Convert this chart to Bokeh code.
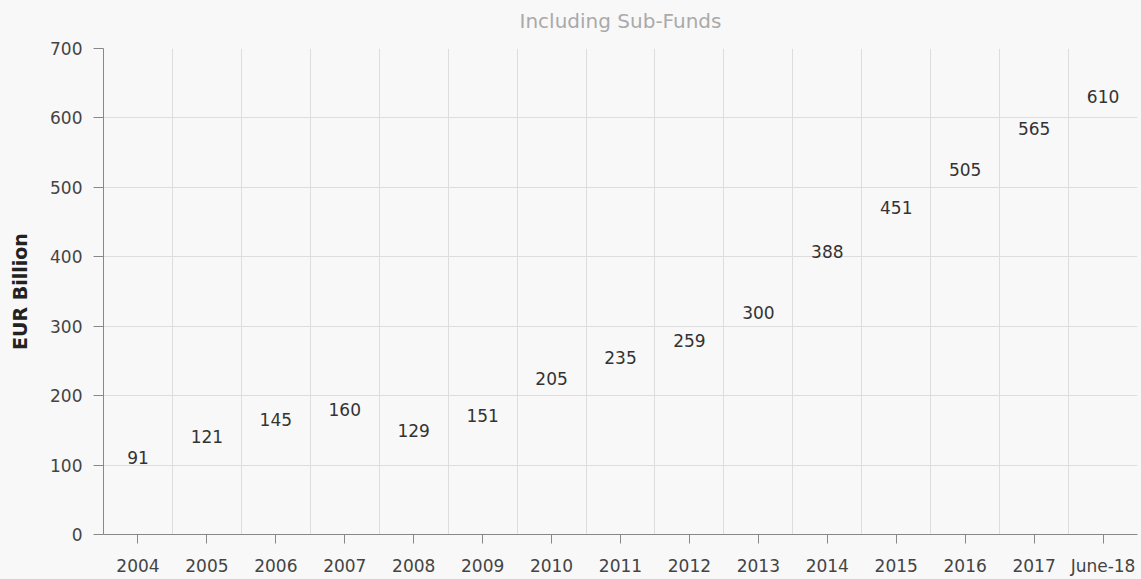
import numpy as np
from bokeh.plotting import figure
from bokeh.models import ColumnDataSource, FixedTicker, Range1d, Title
from bokeh.core.properties import value
from bokeh.embed import file_html
from bokeh.resources import INLINE
from jinja2 import Template

categories = ["2004", "2005", "2006", "2007", "2008", "2009", "2010", "2011",
              "2012", "2013", "2014", "2015", "2016", "2017", "June-18"]
values = [91, 121, 145, 160, 129, 151, 205, 235, 259, 300, 388, 451, 505, 565, 610]
y_ticks = [0, 100, 200, 300, 400, 500, 600, 700]
title_text = "Including Sub-Funds"
y_label = "EUR Billion"

FONT = "DejaVu Sans"
BG = "#f8f8f8"

n = len(categories)
x = [i + 0.5 for i in range(n)]
src = ColumnDataSource(dict(x=x, y=values, label=[str(v) for v in values]))

p = figure(width=1141, height=579, output_backend="svg", toolbar_location=None,
           x_range=Range1d(0, n), y_range=Range1d(0, y_ticks[-1]),
           background_fill_color=BG, border_fill_color=BG,
           min_border_left=103, min_border_right=4, min_border_top=48,
           min_border_bottom=45)
p.outline_line_color = None
p.title.text = ""

# small spacer between plot area and title, then the title itself
spacer = Title(text=" ", text_font=FONT, text_font_size="7px", standoff=0)
p.add_layout(spacer, "above")
title = Title(text=title_text, align="center", text_font=FONT,
              text_font_size="20px", text_font_style="normal",
              text_color="#aaaaaa", standoff=12)
p.add_layout(title, "above")

# x axis
p.xaxis.ticker = FixedTicker(ticks=x)
p.xaxis.major_label_overrides = {xi: c for xi, c in zip(x, categories)}
p.xaxis.major_tick_out = 9
p.xaxis.major_tick_in = 0
p.xaxis.minor_tick_line_color = None
p.xaxis.major_label_standoff = 12

# y axis
p.yaxis.ticker = FixedTicker(ticks=y_ticks)
p.yaxis.major_tick_out = 10
p.yaxis.major_tick_in = 0
p.yaxis.minor_tick_line_color = None
p.yaxis.major_label_standoff = 11
p.yaxis.axis_label = y_label
p.yaxis.axis_label_text_font = FONT
p.yaxis.axis_label_text_font_size = "19px"
p.yaxis.axis_label_text_font_style = "bold"
p.yaxis.axis_label_text_color = "#222222"
p.yaxis.axis_label_standoff = 16

for ax in (p.xaxis, p.yaxis):
    ax.axis_line_color = "#888888"
    ax.major_tick_line_color = "#888888"
    ax.major_label_text_font = FONT
    ax.major_label_text_font_size = "17px"
    ax.major_label_text_color = "#444444"

# grids
p.xgrid.ticker = FixedTicker(ticks=list(range(1, n + 1)))
p.ygrid.ticker = FixedTicker(ticks=y_ticks)
p.xgrid.grid_line_color = "#dddddd"
p.ygrid.grid_line_color = "#dddddd"

p.text(x="x", y="y", text="label", source=src, text_align="center",
       text_baseline="alphabetic", y_offset=-14, text_font=value(FONT),
       text_font_size="17px", text_color="#333333")

template = Template("""{% extends base %}
{% block preamble %}<style>html, body { background: #f8f8f8; }</style>{% endblock %}""")

open("out.html", "w").write(file_html(p, INLINE, template=template))
